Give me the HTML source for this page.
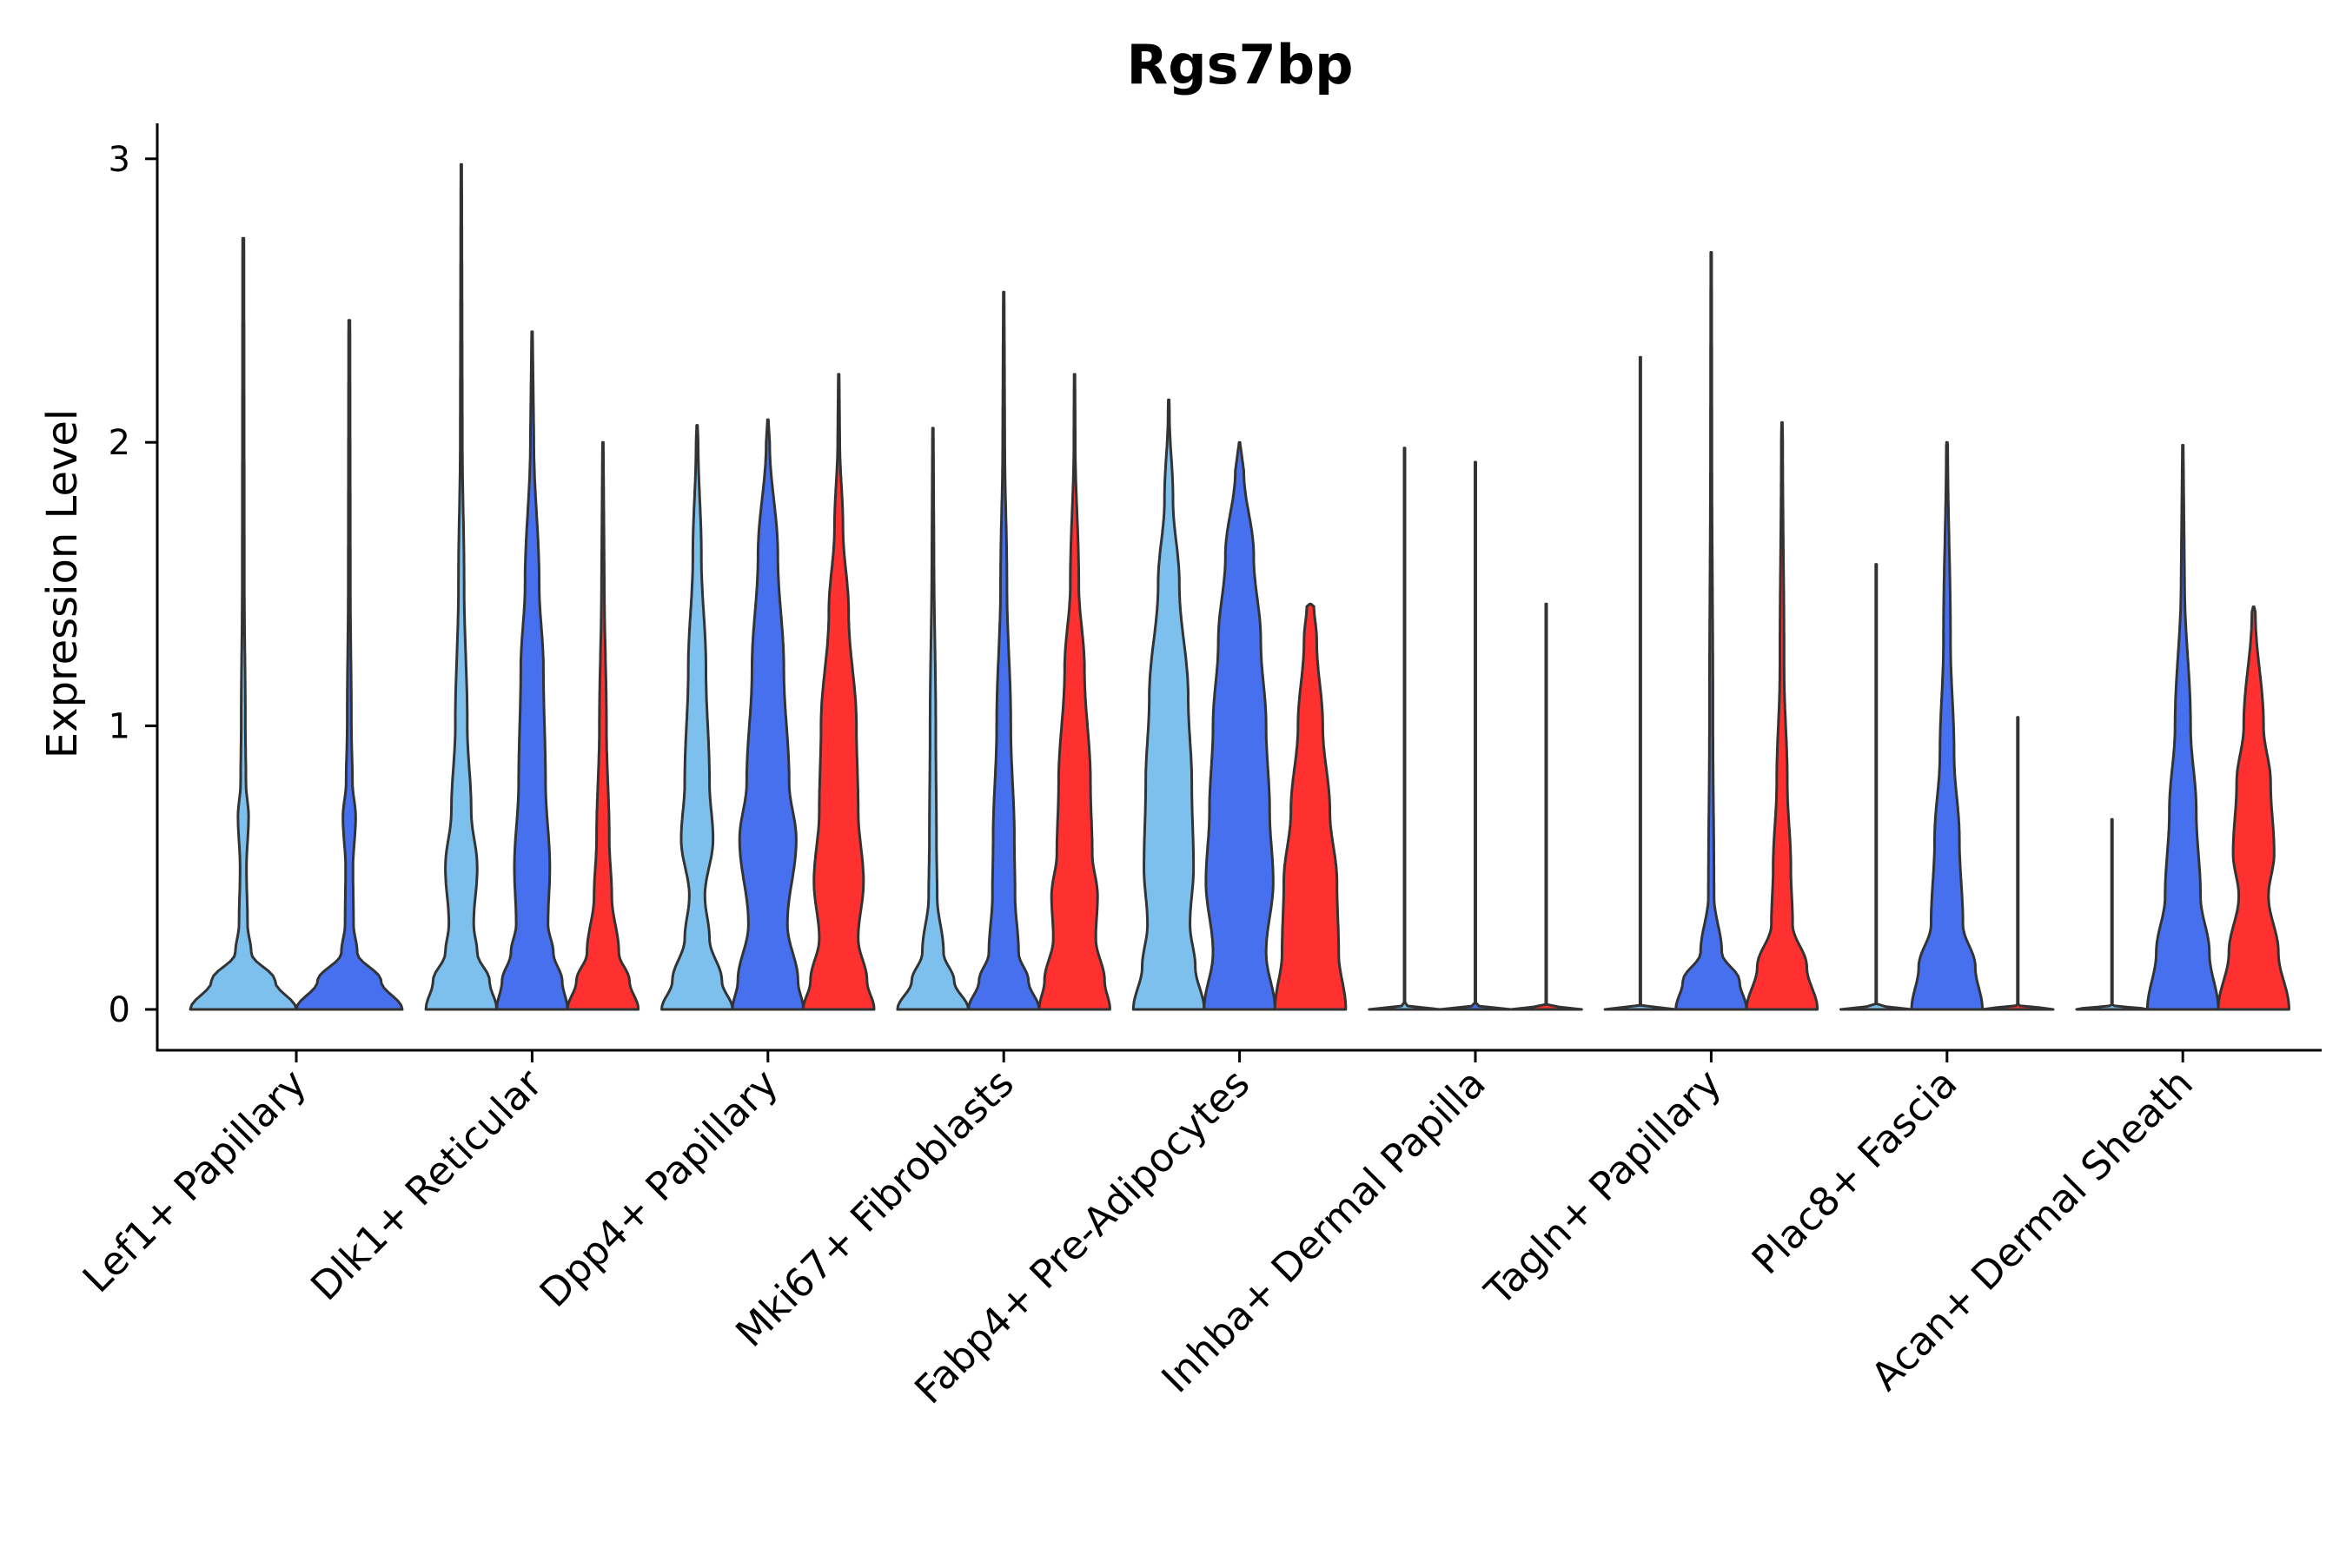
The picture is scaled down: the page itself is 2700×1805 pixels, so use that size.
<!DOCTYPE html>
<html><head><meta charset="utf-8"><style>
body{margin:0;background:#fff}
svg text{font-family:"DejaVu Sans","Liberation Sans",sans-serif;fill:#000}
</style></head><body>
<svg width="2700" height="1800" viewBox="0 0 2700 1800" xmlns="http://www.w3.org/2000/svg">
<text x="1427" y="96" font-size="62" font-weight="bold" text-anchor="middle">Rgs7bp</text>
<g id="plot"></g>
<line x1="181" y1="142" x2="181" y2="1210" stroke="#000" stroke-width="3"/>
<line x1="180" y1="1209" x2="2672" y2="1209" stroke="#000" stroke-width="3"/>
<text transform="translate(88,672) rotate(-90)" font-size="48" text-anchor="middle">Expression Level</text>
<g id="axes"></g>
</svg>
<script>
const categories=["Lef1+ Papillary","Dlk1+ Reticular","Dpp4+ Papillary","Mki67+ Fibroblasts","Fabp4+ Pre-Adipocytes","Inhba+ Dermal Papilla","Tagln+ Papillary","Plac8+ Fascia","Acan+ Dermal Sheath"];
const yTicks=[0,1,2,3];
const slotsPerGroup=[2,3,3,3,3,3,3,3,3];
const seriesNames=["light","blue","red"];
const seriesColors=["#7dc0ee","#4670ee","#ff3030"];
// each violin: group, series, max value, density knots [[y,w],...]
const violinGroups=[0,0,1,1,1,2,2,2,3,3,3,4,4,4,5,5,5,6,6,6,7,7,7,8,8,8];
const violinSeries=[0,1,0,1,2,0,1,2,0,1,2,0,1,2,0,1,2,0,1,2,0,1,2,0,1,2];
const violinMax=[2.72,2.43,2.98,2.39,2.0,2.06,2.08,2.24,2.05,2.53,2.24,2.15,2.0,1.43,1.98,1.93,1.43,2.3,2.67,2.07,1.57,2.0,1.03,0.67,1.99,1.42];
const violinDensity=[
[[0,1],[0.1,0.6],[0.2,0.15],[0.3,0.08],[0.5,0.06],[0.68,0.1],[0.8,0.05],[1,0.04],[1.5,0.02]],
[[0,1],[0.1,0.6],[0.2,0.15],[0.3,0.08],[0.5,0.07],[0.68,0.12],[0.8,0.06],[1,0.04],[1.5,0.02]],
[[0,1],[0.1,0.8],[0.2,0.45],[0.3,0.35],[0.5,0.45],[0.7,0.28],[1,0.17],[1.5,0.08],[2,0.03]],
[[0,1],[0.1,0.85],[0.2,0.6],[0.3,0.45],[0.5,0.5],[0.8,0.38],[1.2,0.32],[1.5,0.2],[2,0.05]],
[[0,1],[0.1,0.75],[0.2,0.45],[0.4,0.25],[0.6,0.18],[1,0.1],[1.5,0.04]],
[[0,1],[0.1,0.7],[0.25,0.35],[0.4,0.22],[0.6,0.45],[0.8,0.35],[1.2,0.25],[1.6,0.12],[2,0.03]],
[[0,1],[0.1,0.85],[0.3,0.55],[0.6,0.8],[0.8,0.6],[1.2,0.45],[1.6,0.28],[2,0.05]],
[[0,1],[0.1,0.8],[0.25,0.55],[0.45,0.7],[0.7,0.55],[1,0.5],[1.4,0.28],[1.7,0.12],[2,0.03]],
[[0,1],[0.1,0.6],[0.2,0.3],[0.4,0.12],[0.6,0.1],[1,0.08],[1.6,0.03]],
[[0,1],[0.1,0.7],[0.2,0.42],[0.4,0.32],[0.6,0.3],[1,0.2],[1.5,0.09],[2,0.03]],
[[0,1],[0.1,0.85],[0.25,0.6],[0.4,0.65],[0.55,0.5],[0.8,0.45],[1.2,0.28],[1.5,0.12],[2,0.02]],
[[0,1],[0.15,0.75],[0.3,0.6],[0.5,0.7],[0.8,0.65],[1.1,0.55],[1.5,0.3],[1.8,0.12],[2.1,0.02]],
[[0,1],[0.2,0.75],[0.45,0.95],[0.7,0.85],[1,0.75],[1.3,0.6],[1.6,0.4],[1.9,0.12]],
[[0,1],[0.2,0.8],[0.45,0.75],[0.7,0.55],[1,0.35],[1.3,0.18],[1.43,0.1]],
[[0,1],[0.015,0.01]],[[0,1],[0.015,0.01]],[[0,1],[0.015,0.01]],
[[0,1],[0.015,0.01]],
[[0,1],[0.1,0.8],[0.2,0.3],[0.4,0.08],[1,0.05],[2,0.02]],
[[0,1],[0.15,0.7],[0.3,0.3],[0.5,0.25],[0.8,0.15],[1.2,0.06],[2,0.02]],
[[0,1],[0.015,0.01]],
[[0,1],[0.15,0.8],[0.3,0.45],[0.6,0.35],[0.9,0.2],[1.3,0.1],[2,0.02]],
[[0,1],[0.015,0.01]],
[[0,1],[0.015,0.01]],
[[0,1],[0.2,0.75],[0.4,0.5],[0.7,0.38],[1,0.22],[1.5,0.05]],
[[0,1],[0.2,0.7],[0.4,0.42],[0.55,0.58],[0.8,0.48],[1,0.28],[1.4,0.05]]
];
const NS="http://www.w3.org/2000/svg";
const yScale=v=>1162-v*326.4;
const groupX=i=>341+i*271.4;
const plot=document.getElementById('plot'),axes=document.getElementById('axes');
function mk(t,a,p){const e=document.createElementNS(NS,t);for(const k in a)e.setAttribute(k,a[k]);p.appendChild(e);return e;}
function dens(kn,y){
  if(y<=kn[0][0])return kn[0][1];
  for(let i=0;i<kn.length-1;i++){const a=kn[i],b=kn[i+1];if(y<=b[0]){const t=(y-a[0])/(b[0]-a[0]);const s=(1-Math.cos(Math.PI*t))/2;return a[1]+(b[1]-a[1])*s;}}
  return kn[kn.length-1][1];
}
for(let v=0;v<violinMax.length;v++){
  const g=violinGroups[v],s=violinSeries[v],n=slotsPerGroup[g];
  const slotW=n===2?122:81.5;
  const cx=groupX(g)+(s-(n-1)/2)*slotW;
  const hw=slotW/2;
  const kn=violinDensity[v],mx=violinMax[v];
  const N=160,right=[],left=[];
  for(let i=0;i<=N;i++){
    const y=mx*i/N;
    let w=dens(kn,y);
    const last=kn[kn.length-1][0];
    if(y>last){const t=(y-last)/(mx-last||1);w=kn[kn.length-1][1]*(1-t)+0.012*t;}
    w=Math.max(w,0.012);
    if(i===N)w=0.012;
    right.push([cx+w*hw,yScale(y)]);left.push([cx-w*hw,yScale(y)]);
  }
  const pts=right.concat(left.reverse());
  const d='M'+pts.map(p=>p[0].toFixed(1)+','+p[1].toFixed(1)).join('L')+'Z';
  const p=mk('path',{d:d,fill:seriesColors[s],stroke:'#333','stroke-width':3,'stroke-linejoin':'round'},plot);
  
  
}
yTicks.forEach(t=>{
  const y=yScale(t);
  const l=mk('line',{x1:167,x2:181,y1:y,y2:y,stroke:'#000','stroke-width':3},axes);
  
  
  const tx=mk('text',{x:150,y:y+14,'font-size':40,'text-anchor':'end'},axes);
  tx.textContent=t;
  
  
});
categories.forEach((c,i)=>{
  const x=groupX(i);
  const l=mk('line',{x1:x,x2:x,y1:1209,y2:1223,stroke:'#000','stroke-width':3},axes);
  
  
  const tx=mk('text',{transform:`translate(${x+14},${1250}) rotate(-45)`,'font-size':45,'text-anchor':'end'},axes);
  tx.textContent=c;
  
  
});
</script>
</body></html>
